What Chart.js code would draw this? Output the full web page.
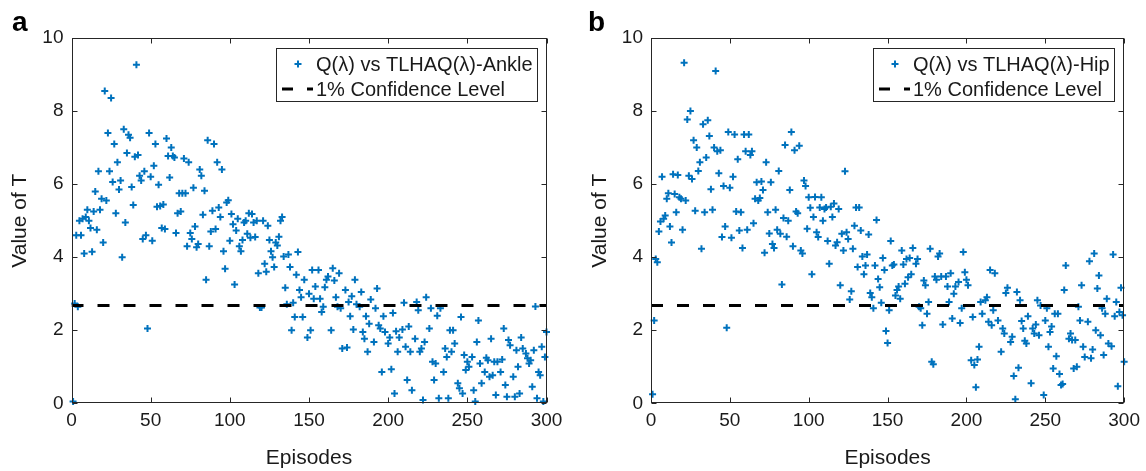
<!DOCTYPE html>
<html>
<head>
<meta charset="utf-8">
<script src="https://cdn.jsdelivr.net/npm/chart.js@4.4.1/dist/chart.umd.min.js"></script>
<style>
  body { margin: 0; background: #fff; width: 1146px; height: 471px; overflow: hidden; position: relative; }
  canvas { position: absolute; top: 0; }
  .tag { position: absolute; top: 8px; font: bold 28px "Liberation Sans", Arial, sans-serif; line-height: 28px; color: #000; }
</style>
</head>
<body>
<canvas id="chartA" width="573" height="471" style="left:0"></canvas>
<canvas id="chartB" width="573" height="471" style="left:573px"></canvas>
<div class="tag" style="left:12px">a</div>
<div class="tag" style="left:588px">b</div>
<script>
// values (episode, T)
const ankleEpisodes = [
  1,2,3,4,5,6,7,8,9,10, 11,12,13,14,15,16,17,18,19,20, 21,22,23,24,25,26,27,28,29,30,
  31,32,33,34,35,36,37,38,39,40, 41,42,43,44,45,46,47,48,49,50, 51,52,53,54,55,56,57,58,59,60,
  61,62,63,64,65,66,67,68,69,70, 71,72,73,74,75,76,77,78,79,80, 81,82,83,84,85,86,87,88,89,90,
  91,92,93,94,95,96,97,98,99,100, 101,102,103,104,105,106,107,108,109,110, 111,112,113,114,115,116,117,118,119,120,
  121,122,123,124,125,126,127,128,129,130, 131,132,133,134,135,136,137,138,139,140, 141,142,143,144,145,146,147,
  149,150,151,152,153,154,156,157,158,159, 160,161,162,164,165,166,167,168,169,170,
  171,173,174,175,176,177,178,179,180,182, 183,184,185,186,187,188,189,191,192,193,
  194,195,196,197,198,200,201,202,203,204, 205,206,207,209,210,211,212,213,214,215,
  217,218,219,220,221,222,223,224,226,227, 228,229,230,231,232,233,235,236,237,238,
  239,240,241,242,244,245,246,247,248,249, 250,251,253,254,255,256,257,258,259,261,
  262,263,264,265,266,267,268,269,271,272, 273,274,275,276,277,279,280,281,282,283,
  284,285,287,288,289,290,291,292,293,294, 295,296,297,298,299,300
];
const ankleT = [
  0.05,2.73,4.6,2.64,5.0,4.6,5.05,4.1,5.1,5.3, 5.0,4.8,4.15,5.25,5.8,4.75,6.35,5.3,5.6,4.4, 8.55,5.55,7.4,6.35,8.36,6.06,7.1,5.2,6.6,5.85,
  6.1,4.0,7.5,4.95,6.85,7.35,7.27,5.92,5.43,6.75, 9.27,6.8,6.23,6.1,4.5,6.35,4.6,2.05,7.4,6.2, 4.45,6.5,7.1,5.38,5.98,5.4,4.8,5.44,4.77,7.25,
  6.77,6.18,7.0,6.77,6.73,4.66,5.2,5.75,5.25,5.75, 6.7,5.75,4.3,6.6,4.66,4.5,5.9,4.84,4.27,4.36, 6.4,6.23,5.16,5.82,3.38,7.2,4.3,4.7,5.27,7.1,
  4.77,6.6,5.36,5.1,6.4,4.16,3.68,5.5,5.56,4.45, 5.18,4.9,3.25,4.73,5.05,4.3,4.16,4.47,4.95,5.0, 4.64,5.2,4.53,5.18,4.95,4.55,5.0,3.56,2.62,2.62,
  5.0,3.82,3.6,4.86,4.47,4.16,4.0,3.73,4.4,4.32, 4.56,5.0,5.1,4.02,3.16,2.71,4.07,3.73,2.0,2.75, 2.36,3.52,4.14,3.1,2.9,2.36,3.38,
  1.8,3.0,2.0,3.65,2.86,3.2,3.65,2.86,2.5,2.64, 3.18,3.38,3.47,2.0,3.7,3.36,2.9,2.64,3.56,2.6,
  1.5,3.1,1.53,2.77,2.38,2.93,2.02,3.38,2.71,2.64, 3.05,1.95,1.77,2.38,1.41,2.18,2.84,1.68,2.6,3.14,
  2.14,2.05,0.86,2.38,1.95,1.64,1.8,0.93,2.47,0.27, 1.97,1.41,1.8,2.02,2.75,1.55,0.64,2.1,1.41,0.36,
  1.77,2.77,2.55,1.41,1.5,0.09,1.68,2.9,2.05,2.6, 1.14,0.64,1.09,2.4,0.14,2.6,0.86,1.5,1.27,0.14,
  2.0,1.41,2.0,1.64,0.55,0.41,2.36,0.27,1.32,0.91, 1.14,1.0,1.27,0.36,0.05,1.68,2.27,1.09,0.55,0.86,
  1.25,1.18,0.73,1.77,0.77,1.14,0.23,1.14,0.86,1.2, 2.05,0.5,0.18,1.73,1.59,0.73,0.18,1.45,1.0,0.27,
  1.8,1.5,1.36,1.23,1.09,1.18,0.45,1.45,2.65,0.14, 0.86,0.77,1.55,0.05,1.27,1.95
];

const hipEpisodes = [
  1,2,3,4,5,6,7,8,9,10, 11,12,13,14,15,16,17,18,19,20, 21,22,23,24,25,26,27,28,29,30,
  31,32,33,34,35,36,37,38,39,40, 41,42,43,44,45,46,47,48,49,50, 51,52,53,54,55,56,57,58,59,60,
  61,62,63,64,65,66,67,68,69,70, 71,72,73,74,75,76,77,78,79,80, 81,82,83,84,85,86,87,88,89,90,
  91,92,93,94,95,96,97,98,99,100, 101,102,103,104,105,106,107,108,109,110, 111,112,113,114,115,116,117,118,119,120,
  121,122,123,124,125,126,127,128,129,130, 131,132,133,134,135,136,137,138,139,140, 141,142,143,144,145,146,147,148,149,150,
  151,152,153,154,155,156,157,158,159,160, 161,162,163,164,165,166,
  168,169,170,171,172,173,174,175,176,177, 178,179,180,181,182,183,184,185,187,188,
  189,190,191,192,193,195,196,197,198,199, 200,201,203,204,205,206,207,208,209,210,
  212,213,214,215,216,217,218,220,222,223, 224,225,226,228,229,230,231,232,233,234,
  235,236,237,238,239,241,242,243,244,245, 246,247,249,250,251,252,253,254,255,256,
  257,258,259,260,261,262,263,265,266,267, 268,269,270,271,272,273,274,275,277,278,
  279,280,281,282,283,284,285,286,287,288, 289,290,292,293,294,295,296,297,298,299, 300
];
const hipT = [
  0.25,2.27,3.95,3.86,4.7,4.98,6.2,5.05,5.14,5.6, 5.75,4.84,4.4,6.27,5.73,5.23,6.25,5.64,5.6,4.75, 9.32,5.55,7.77,6.23,8.0,6.14,7.2,5.27,7.0,6.36,
  6.6,4.23,7.64,5.23,6.73,7.75,7.32,5.86,5.3,7.0, 9.1,6.9,6.3,6.93,4.55,5.95,4.84,2.07,7.43,5.9, 4.53,6.2,7.36,5.25,6.68,4.73,5.23,4.25,7.36,6.9,
  4.75,7.36,6.8,6.9,4.93,5.6,6.05,5.55,5.62,6.07, 5.84,4.12,6.6,5.23,4.65,6.05,4.36,4.25,5.3,4.75, 6.36,4.64,3.25,5.07,7.07,4.56,5.0,5.84,7.43,4.3,
  6.93,5.25,5.2,7.05,4.18,4.1,6.1,5.95,4.78,5.64, 5.35,3.53,5.1,5.65,4.68,4.55,5.36,5.64,5.0,5.32, 5.36,4.44,3.82,5.38,5.1,5.47,4.32,4.41,5.32,3.23,
  4.64,4.18,6.35,4.68,4.5,2.84,3.07,4.23,4.86,5.36, 3.73,5.36,4.73,4.02,3.53,3.77,4.07,4.62,3.02,2.9, 2.6,3.77,5.02,3.4,3.18,2.75,3.98,3.65,1.98,1.65,
  2.55,4.44,3.77,3.8,2.95,3.1,3.2,2.86,4.18,3.8, 3.27,3.95,3.45,3.98,3.53,4.25,
  3.82,3.95,2.64,2.6,2.14,3.36,3.23,2.45,2.77,4.23, 1.14,1.07,3.47,3.38,4.02,4.1,3.47,2.16,3.47,3.2,
  2.77,3.56,2.32,3.0,3.2,3.32,2.2,2.6,4.14,3.59, 3.38,3.23,1.18,2.36,1.05,0.44,1.2,1.55,2.77,2.45,
  2.82,2.9,2.23,3.65,2.14,2.55,3.56,2.27,1.41,2.05, 1.91,3.02,3.16,1.68,1.82,0.75,0.11,3.05,0.97,2.82,
  2.25,2.05,1.71,1.64,2.38,0.55,2.05,1.91,2.16,2.82, 1.86,2.68,0.23,2.27,2.6,1.55,1.95,2.1,0.95,2.45,
  1.29,2.45,0.8,0.5,0.53,3.1,3.77,1.77,1.91,1.73, 0.95,1.73,1.0,2.64,2.27,3.23,1.55,1.27,2.23,3.89,
  1.23,1.47,4.1,2.0,3.14,3.5,1.86,2.6,1.32,2.45, 2.86,1.64,1.56,4.07,2.38,2.77,0.47,2.5,3.16,2.41, 1.14
];

const confidenceLevel = 2.68;
const confidenceLabel = '1% Confidence Level';
const episodeRange = [0, 300];
const valueRange = [0, 10];

const seriesColor = '#0072BD';
const axisColor = '#262626';
const fontFamily = '"Liberation Sans", Arial, Helvetica, sans-serif';

Chart.defaults.font.family = fontFamily;
Chart.defaults.font.size = 19;
Chart.defaults.color = '#1a1a1a';

// matlab style box with inward ticks
const boxAndTicks = {
  id: 'boxAndTicks',
  afterDatasetsDraw(chart) {
    const { ctx, chartArea: a, scales: { x, y } } = chart;
    const L = Math.round(a.left) + 0.5, R = Math.round(a.right) - 0.5;
    const T = Math.round(a.top) + 0.5, B = Math.round(a.bottom) - 0.5;
    ctx.save();
    ctx.strokeStyle = axisColor;
    ctx.lineWidth = 1;
    ctx.setLineDash([]);
    ctx.strokeRect(L, T, R - L, B - T);
    ctx.beginPath();
    x.ticks.forEach(t => {
      const px = Math.round(x.getPixelForValue(t.value)) + 0.5;
      ctx.moveTo(px, B); ctx.lineTo(px, B - 5);
      ctx.moveTo(px, T); ctx.lineTo(px, T + 5);
    });
    y.ticks.forEach(t => {
      const py = Math.round(y.getPixelForValue(t.value)) + 0.5;
      ctx.moveTo(L, py); ctx.lineTo(L + 5, py);
      ctx.moveTo(R, py); ctx.lineTo(R - 5, py);
    });
    ctx.stroke();
    ctx.restore();
  }
};

// legend box inside the top right corner
const legendBox = {
  id: 'legendBox',
  afterDraw(chart) {
    const { ctx, chartArea: a } = chart;
    const [pts, line] = chart.data.datasets;
    ctx.save();
    ctx.font = '20px ' + fontFamily;
    const textW = Math.max(ctx.measureText(pts.label).width, ctx.measureText(line.label).width);
    const w = Math.round(40 + textW + 4), h = 53;
    const left = Math.round(a.right - 10 - w), top = Math.round(a.top + 10);
    ctx.fillStyle = '#fff';
    ctx.fillRect(left, top, w, h);
    ctx.strokeStyle = axisColor;
    ctx.lineWidth = 1;
    ctx.strokeRect(left + 0.5, top + 0.5, w, h);

    const r1 = top + 16, r2 = top + 41, mx = left + 22;
    ctx.strokeStyle = seriesColor;
    ctx.lineWidth = 2;
    ctx.beginPath();
    ctx.moveTo(mx - 3.5, r1); ctx.lineTo(mx + 3.5, r1);
    ctx.moveTo(mx, r1 - 3.5); ctx.lineTo(mx, r1 + 3.5);
    ctx.stroke();

    ctx.strokeStyle = '#000';
    ctx.lineWidth = 3;
    ctx.setLineDash([11, 14]);
    ctx.beginPath();
    ctx.moveTo(left + 6, r2); ctx.lineTo(left + 37, r2);
    ctx.stroke();

    ctx.fillStyle = '#1a1a1a';
    ctx.textBaseline = 'middle';
    ctx.textAlign = 'left';
    ctx.fillText(pts.label, left + 40, r1 + 1);
    ctx.fillText(line.label, left + 40, r2 + 1);
    ctx.restore();
  }
};

function drawPanel(canvasId, episodes, values, seriesLabel, pad) {
  const points = episodes.map((e, i) => ({ x: e, y: values[i] }));
  return new Chart(document.getElementById(canvasId), {
    type: 'scatter',
    data: {
      datasets: [
        {
          label: seriesLabel,
          data: points,
          pointStyle: 'cross',
          pointRadius: 3.5,
          pointBorderWidth: 2,
          borderColor: seriesColor,
          backgroundColor: seriesColor,
          clip: false,
          order: 2
        },
        {
          type: 'line',
          label: confidenceLabel,
          data: [{ x: episodeRange[0], y: confidenceLevel }, { x: episodeRange[1], y: confidenceLevel }],
          borderColor: '#000',
          borderWidth: 3,
          borderDash: [12, 14],
          pointRadius: 0,
          fill: false,
          order: 1
        }
      ]
    },
    options: {
      responsive: false,
      animation: false,
      events: [],
      layout: { padding: { left: 0, top: 38, right: pad.right, bottom: 0 } },
      plugins: { legend: { display: false }, tooltip: { enabled: false } },
      scales: {
        x: {
          type: 'linear', min: episodeRange[0], max: episodeRange[1],
          ticks: { stepSize: 50, padding: 6 },
          grid: { display: false, drawTicks: false },
          border: { display: false },
          title: { display: true, text: 'Episodes', font: { size: 21 }, padding: { top: 0, bottom: 0 } },
          afterFit: s => { s.height = 67.7; }
        },
        y: {
          type: 'linear', min: valueRange[0], max: valueRange[1],
          ticks: { stepSize: 2, padding: 8 },
          grid: { display: false, drawTicks: false },
          border: { display: false },
          title: { display: true, text: 'Value of T', font: { size: 21 }, padding: { top: pad.title, bottom: 0 } },
          afterFit: s => { s.width = pad.axis; }
        }
      }
    },
    plugins: [boxAndTicks, legendBox]
  });
}

drawPanel('chartA', ankleEpisodes, ankleT, 'Q(λ) vs TLHAQ(λ)-Ankle', { axis: 71.5, right: 26.5, title: 7.5 });
drawPanel('chartB', hipEpisodes, hipT, 'Q(λ) vs TLHAQ(λ)-Hip', { axis: 78, right: 20.5, title: 14.5 });
</script>
</body>
</html>
